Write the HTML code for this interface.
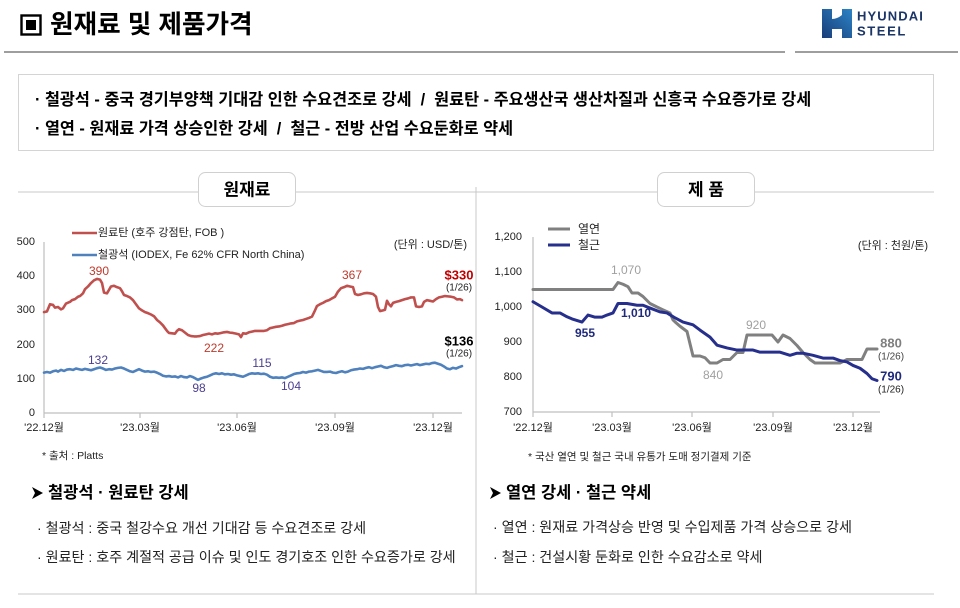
<!DOCTYPE html>
<html><head><meta charset="utf-8"><style>
html,body{margin:0;padding:0;background:#fff;}
body{width:960px;height:608px;overflow:hidden;position:relative;}
svg{position:absolute;left:0;top:0;}
text{white-space:pre;}
</style></head><body>
<svg width="960" height="608" viewBox="0 0 960 608" xmlns="http://www.w3.org/2000/svg" font-family="'Liberation Sans','Noto Sans CJK KR',sans-serif">
<defs>
<linearGradient id="lg" x1="0" y1="1" x2="1" y2="0">
<stop offset="0" stop-color="#1a3d78"/><stop offset="1" stop-color="#2b83c6"/>
</linearGradient>
</defs>
<!-- header -->
<rect x="21.5" y="15.5" width="19" height="19" fill="none" stroke="#000" stroke-width="2.4"/>
<rect x="26" y="20" width="10" height="10" fill="#000"/>
<text x="50" y="25" font-size="25.6" font-weight="bold" dominant-baseline="central" fill="#000">원재료 및 제품가격</text>
<line x1="4" y1="52" x2="785" y2="52" stroke="#7f7f7f" stroke-width="1.5"/>
<line x1="795" y1="52" x2="958" y2="52" stroke="#7f7f7f" stroke-width="1.5"/>
<!-- logo -->
<path d="M822 9 H832 V19 Q837 19 842 15 V9 H852 V38 H842 V29 H832 V38 H822 Z" fill="url(#lg)"/>
<text x="857" y="16" font-size="13" font-weight="bold" fill="#1b3566" letter-spacing="1.1" dominant-baseline="central">HYUNDAI</text>
<text x="857" y="31" font-size="13" font-weight="bold" fill="#1b3566" letter-spacing="1.6" dominant-baseline="central">STEEL</text>
<!-- summary box -->
<rect x="18.5" y="74.5" width="915" height="76" fill="#fff" stroke="#d4d4d4"/>
<text x="35" y="100" font-size="16.3" font-weight="bold" dominant-baseline="central">· 철광석 - 중국 경기부양책 기대감 인한 수요견조로 강세  /  원료탄 - 주요생산국 생산차질과 신흥국 수요증가로 강세</text>
<text x="35" y="129" font-size="16.3" font-weight="bold" dominant-baseline="central">· 열연 - 원재료 가격 상승인한 강세  /  철근 - 전방 산업 수요둔화로 약세</text>
<!-- section frame -->
<line x1="18" y1="192" x2="934" y2="192" stroke="#c8c8c8" stroke-width="1"/>
<line x1="476" y1="187" x2="476" y2="594" stroke="#c8c8c8" stroke-width="1"/>
<line x1="18" y1="594" x2="934" y2="594" stroke="#c8c8c8" stroke-width="1"/>
<rect x="198.5" y="172.5" width="97" height="34" rx="7" fill="#fff" stroke="#d0d0d0"/>
<text x="247" y="190" font-size="17" font-weight="bold" text-anchor="middle" dominant-baseline="central">원재료</text>
<rect x="657.5" y="172.5" width="97" height="34" rx="7" fill="#fff" stroke="#d0d0d0"/>
<text x="706" y="190" font-size="17" font-weight="bold" text-anchor="middle" dominant-baseline="central">제 품</text>

<!-- LEFT CHART -->
<line x1="72" y1="233" x2="97" y2="233" stroke="#c0504d" stroke-width="2.5"/>
<text x="98" y="233" font-size="11" dominant-baseline="central" fill="#222">원료탄 (호주 강점탄, FOB )</text>
<line x1="72" y1="255" x2="97" y2="255" stroke="#4f81bd" stroke-width="2.5"/>
<text x="98" y="255" font-size="11" dominant-baseline="central" fill="#222">철광석 (IODEX, Fe 62% CFR North China)</text>
<text x="467" y="245" font-size="11" text-anchor="end" dominant-baseline="central" fill="#222">(단위 : USD/톤)</text>
<g font-size="11" fill="#222" text-anchor="end" dominant-baseline="central">
<text x="35" y="242">500</text><text x="35" y="276">400</text><text x="35" y="310">300</text>
<text x="35" y="345">200</text><text x="35" y="379">100</text><text x="35" y="413">0</text>
</g>
<line x1="44" y1="242" x2="44" y2="413" stroke="#bfbfbf" stroke-width="1.2"/>
<line x1="44" y1="413" x2="462" y2="413" stroke="#bfbfbf" stroke-width="1.2"/>
<g stroke="#bfbfbf" stroke-width="1.2">
<line x1="44" y1="413" x2="44" y2="418"/><line x1="140" y1="413" x2="140" y2="418"/>
<line x1="237" y1="413" x2="237" y2="418"/><line x1="335" y1="413" x2="335" y2="418"/>
<line x1="433" y1="413" x2="433" y2="418"/>
</g>
<g font-size="11" fill="#222" text-anchor="middle" dominant-baseline="central">
<text x="44" y="428">'22.12월</text><text x="140" y="428">'23.03월</text><text x="237" y="428">'23.06월</text>
<text x="335" y="428">'23.09월</text><text x="433" y="428">'23.12월</text>
</g>
<g transform="translate(0 413) scale(1 -0.342)" fill="none" stroke-linejoin="round" stroke-linecap="round">
<polyline vector-effect="non-scaling-stroke" stroke="#c0504d" stroke-width="2.6" points="44,295 47,297 50,318 53,316 55,308 58,310 61,303 63,306 66,320 70,325 72,330 75,333 78,340 80,342 83,350 85,362 88,370 91,380 94,388 97,392 100,390 102,380 104,352 107,350 109,360 111,370 114,372 117,368 120,365 122,356 124,345 127,342 130,338 133,330 136,318 139,306 142,300 145,295 148,292 151,288 154,283 157,272 160,265 163,256 165,248 167,240 169,234 172,233 175,232 177,240 179,245 182,242 185,235 188,228 191,225 194,224 197,224 200,225 203,228 206,230 209,232 212,230 215,233 218,232 221,234 224,236 227,237 230,235 233,234 236,232 239,230 241,222 243,233 246,232 249,236 252,238 255,240 258,240 261,240 264,240 267,242 270,248 273,250 276,252 279,253 282,255 285,258 288,260 291,262 294,263 297,268 300,270 303,272 306,275 309,278 312,282 315,300 317,313 320,318 323,322 326,327 329,330 332,335 335,340 338,355 341,365 344,368 347,372 350,370 353,368 355,348 358,345 361,347 364,350 367,351 370,350 373,348 376,340 378,310 380,298 383,300 385,302 387,328 389,318 391,312 393,322 396,325 399,327 402,330 405,333 408,335 411,338 414,338 416,312 419,310 422,312 424,325 427,330 430,328 433,326 436,333 439,338 442,340 445,342 448,341 451,340 454,338 457,332 460,333 462,330"/>
<polyline vector-effect="non-scaling-stroke" stroke="#4f81bd" stroke-width="2.6" points="44,118 47,120 50,118 53,122 56,124 58,121 61,126 64,123 67,127 70,128 73,126 76,130 79,128 82,126 85,129 88,127 91,125 94,128 97,131 100,133 103,130 106,126 109,128 112,127 115,130 118,132 121,133 124,130 127,126 130,122 133,120 136,124 139,128 142,124 145,121 148,122 151,120 154,121 157,118 160,114 163,109 166,107 169,108 172,106 175,107 178,104 181,108 184,105 187,104 190,108 193,105 196,100 198,97 201,101 204,104 207,106 210,110 213,114 216,116 219,114 222,116 225,113 228,114 231,112 234,113 237,110 240,108 243,106 246,110 249,114 252,116 255,115 258,116 261,114 264,115 267,112 270,106 273,103 276,104 279,103 282,104 285,102 288,106 291,110 294,114 297,116 300,117 303,120 306,118 309,121 312,122 315,124 318,126 321,123 324,120 327,120 330,121 333,118 336,117 339,120 342,122 345,119 348,121 351,125 354,127 357,128 360,130 363,129 366,132 369,134 372,131 375,134 378,136 381,138 384,134 387,132 390,135 393,137 396,140 399,138 402,137 405,140 408,141 411,139 414,141 417,143 420,140 423,142 426,144 429,143 432,146 435,147 438,144 441,141 444,136 447,130 450,128 453,132 456,130 459,134 462,137"/>
</g>
<g font-size="12" text-anchor="middle" dominant-baseline="central">
<text x="99" y="271" fill="#c0392b">390</text>
<text x="352" y="275" fill="#c0392b">367</text>
<text x="214" y="348" fill="#c0392b">222</text>
<text x="98" y="360" fill="#4b3f91">132</text>
<text x="199" y="388" fill="#4b3f91">98</text>
<text x="262" y="363" fill="#4b3f91">115</text>
<text x="291" y="386" fill="#4b3f91">104</text>
<text x="459" y="275" fill="#c00000" font-size="13" font-weight="bold">$330</text>
<text x="459" y="288" fill="#222" font-size="10">(1/26)</text>
<text x="459" y="341" fill="#000" font-size="13" font-weight="bold">$136</text>
<text x="459" y="354" fill="#222" font-size="10">(1/26)</text>
</g>
<text x="42" y="456" font-size="10.5" dominant-baseline="central" fill="#222">* 출처 : Platts</text>

<!-- RIGHT CHART -->
<line x1="548" y1="229" x2="570" y2="229" stroke="#808080" stroke-width="3"/>
<text x="578" y="229" font-size="12" dominant-baseline="central" fill="#222">열연</text>
<line x1="548" y1="245" x2="570" y2="245" stroke="#262f8c" stroke-width="3"/>
<text x="578" y="245" font-size="12" dominant-baseline="central" fill="#222">철근</text>
<text x="928" y="246" font-size="11" text-anchor="end" dominant-baseline="central" fill="#222">(단위 : 천원/톤)</text>
<g font-size="11" fill="#222" text-anchor="end" dominant-baseline="central">
<text x="522" y="237">1,200</text><text x="522" y="272">1,100</text><text x="522" y="307">1,000</text>
<text x="522" y="342">900</text><text x="522" y="377">800</text><text x="522" y="412">700</text>
</g>
<line x1="533" y1="237" x2="533" y2="412" stroke="#bfbfbf" stroke-width="1.2"/>
<line x1="533" y1="412" x2="880" y2="412" stroke="#bfbfbf" stroke-width="1.2"/>
<g stroke="#bfbfbf" stroke-width="1.2">
<line x1="533" y1="412" x2="533" y2="417"/><line x1="612" y1="412" x2="612" y2="417"/>
<line x1="692" y1="412" x2="692" y2="417"/><line x1="773" y1="412" x2="773" y2="417"/>
<line x1="853" y1="412" x2="853" y2="417"/>
</g>
<g font-size="11" fill="#222" text-anchor="middle" dominant-baseline="central">
<text x="533" y="428">'22.12월</text><text x="612" y="428">'23.03월</text><text x="692" y="428">'23.06월</text>
<text x="773" y="428">'23.09월</text><text x="853" y="428">'23.12월</text>
</g>
<g transform="translate(0 657) scale(1 -0.35)" fill="none" stroke-linejoin="round" stroke-linecap="round">
<polyline vector-effect="non-scaling-stroke" stroke="#808080" stroke-width="3" points="533,1050 613,1050 618,1070 623,1065 628,1058 632,1040 638,1040 643,1030 650,1010 657,1000 663,992 670,983 673,963 676,955 680,945 687,930 693,860 700,860 705,855 710,840 717,840 723,850 730,850 737,870 743,870 747,920 772,920 778,900 783,920 790,910 797,890 803,870 810,850 815,840 840,840 847,850 862,850 867,880 877,880"/>
<polyline vector-effect="non-scaling-stroke" stroke="#262f8c" stroke-width="3" points="533,1015 542,1000 552,983 560,983 567,972 572,966 582,957 588,977 595,971 602,971 607,977 613,983 618,1010 627,1010 637,1005 643,1005 650,997 660,986 667,983 675,969 683,957 693,949 700,934 710,914 717,891 727,883 737,877 753,877 760,871 780,871 790,862 797,868 803,868 813,862 823,854 833,854 840,847 847,843 853,833 860,825 867,810 872,795 877,790"/>
</g>
<g font-size="12" text-anchor="middle" dominant-baseline="central">
<text x="626" y="270" fill="#a0a0a0">1,070</text>
<text x="636" y="313" fill="#1f2a7c" font-weight="bold">1,010</text>
<text x="585" y="333" fill="#1f2a7c" font-weight="bold">955</text>
<text x="756" y="325" fill="#a0a0a0">920</text>
<text x="713" y="375" fill="#a0a0a0">840</text>
<text x="891" y="343" fill="#7f7f7f" font-size="13" font-weight="bold">880</text>
<text x="891" y="357" fill="#444" font-size="10">(1/26)</text>
<text x="891" y="376" fill="#1f2a7c" font-size="13" font-weight="bold">790</text>
<text x="891" y="390" fill="#222" font-size="10">(1/26)</text>
</g>
<text x="528" y="457" font-size="10.5" dominant-baseline="central" fill="#222">* 국산 열연 및 철근 국내 유통가 도매 정기결제 기준</text>

<!-- bottom texts -->
<polygon points="32,487 43,493 32,499 35,493" fill="#000"/>
<text x="48" y="493" font-size="16.5" font-weight="bold" dominant-baseline="central">철광석 · 원료탄 강세</text>
<text x="37" y="528" font-size="14.1" dominant-baseline="central" fill="#222">· 철광석 : 중국 철강수요 개선 기대감 등 수요견조로 강세</text>
<text x="37" y="557" font-size="14.1" dominant-baseline="central" fill="#222">· 원료탄 : 호주 계절적 공급 이슈 및 인도 경기호조 인한 수요증가로 강세</text>
<polygon points="490,487 501,493 490,499 493,493" fill="#000"/>
<text x="506" y="493" font-size="16.5" font-weight="bold" dominant-baseline="central">열연 강세 · 철근 약세</text>
<text x="493" y="527" font-size="14.1" dominant-baseline="central" fill="#222">· 열연 : 원재료 가격상승 반영 및 수입제품 가격 상승으로 강세</text>
<text x="493" y="557" font-size="14.1" dominant-baseline="central" fill="#222">· 철근 : 건설시황 둔화로 인한 수요감소로 약세</text>
</svg>
</body></html>
